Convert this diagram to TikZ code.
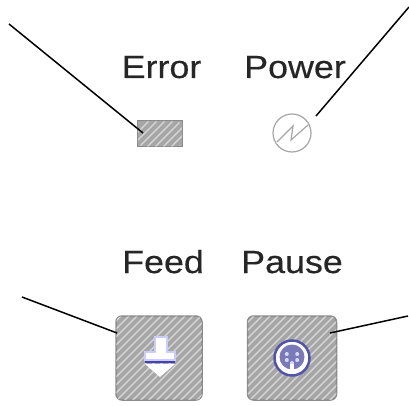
\documentclass[tikz,border=0pt]{standalone}
\usepackage{fontspec}
\setmainfont[FakeStretch=1.12,FakeBold=0.4]{Liberation Sans}
\usepackage{tikz}
\usetikzlibrary{patterns, positioning}

\begin{document}
\begin{tikzpicture}[
    x=1pt, y=-1pt,
    label/.style={inner sep=0pt, anchor=base, font=\fontsize{32}{32}\selectfont, text=black!85},
    led/.style={rectangle, draw=gray!90, fill=gray!70, line width=1pt, minimum width=45pt, minimum height=26pt, inner sep=0pt},
    lamp/.style={circle, draw=gray!70, line width=1.2pt, minimum size=38pt, inner sep=0pt},
    button/.style={rectangle, rounded corners=6pt, draw=gray!90, fill=gray!70, line width=1.5pt, minimum width=86pt, minimum height=84pt, inner sep=0pt},
    pointer/.style={line width=1.5pt}
]
    \useasboundingbox (0,0) rectangle (409,406);

    \node[label] (error) at (161.5,78) {Error};
    \node[label] (power) at (295,78) {Power};
    \node[label] (feed) at (163,273) {Feed};
    \node[label] (pause) at (292,273) {Pause};

    \node[led] (errorled) at (160,134) {};
    \node[lamp] (powerlamp) at (292,133) {};
    \draw[gray!70, line width=1.2pt] (277,142) -- (293,126) -- (291,140) -- (308,125);

    \node[button] (feedbtn) at (159,358) {};
    \node[button, minimum width=89pt] (pausebtn) at (292,358) {};

    % hatching on the two buttons and the led
    \foreach \target in {errorled, feedbtn, pausebtn} {
        \begin{scope}
            \clip[rounded corners=5pt] ([shift={(1,-1)}]\target.south west) rectangle ([shift={(-1,1)}]\target.north east);
            \foreach \i in {-120,-112,...,120}
                \draw[gray!30, line width=1.3pt] ([xshift=\i pt]\target.center) ++(-100,100) -- ++(200,-200);
        \end{scope}
    }

    % feed arrow
    \draw[blue!20, fill=white, line width=1.5pt] (155,337) -- (167,337) -- (167,352) -- (175,352) -- (175,360) -- (145,360) -- (145,352) -- (155,352) -- cycle;
    \fill[white] (145,364) -- (175,364) -- (160,377) -- cycle;
    \draw[blue!50!gray, line width=1.5pt] (145,362) -- (175,362);

    % pause symbol
    \node[circle, draw=blue!35!gray, fill=white, line width=2.5pt, minimum size=35pt, inner sep=0pt] (pausering) at (292,358) {};
    \node[circle, fill=blue!30!gray!80, minimum size=25pt, inner sep=0pt] (pausedot) at (292,357) {};
    \foreach \a in {-30,30,90,150,210}
        \fill[blue!15] (pausedot.center) ++(\a:6) circle (2);
    \fill[white] (290,364) rectangle (294,373);

    \coordinate (errorend) at (9,24);
    \coordinate (powerend) at (409,7);
    \coordinate (feedend) at (22,297);
    \coordinate (pauseend) at (408,316);
    \coordinate (errortip) at (143,133);
    \coordinate (powertip) at (316,116);
    \coordinate (feedtip) at (117,333);
    \coordinate (pausetip) at (330,333);

    \draw[pointer] (errorend) -- (errortip);
    \draw[pointer] (powerend) -- (powertip);
    \draw[pointer] (feedend) -- (feedtip);
    \draw[pointer] (pauseend) -- (pausetip);
\end{tikzpicture}
\end{document}
